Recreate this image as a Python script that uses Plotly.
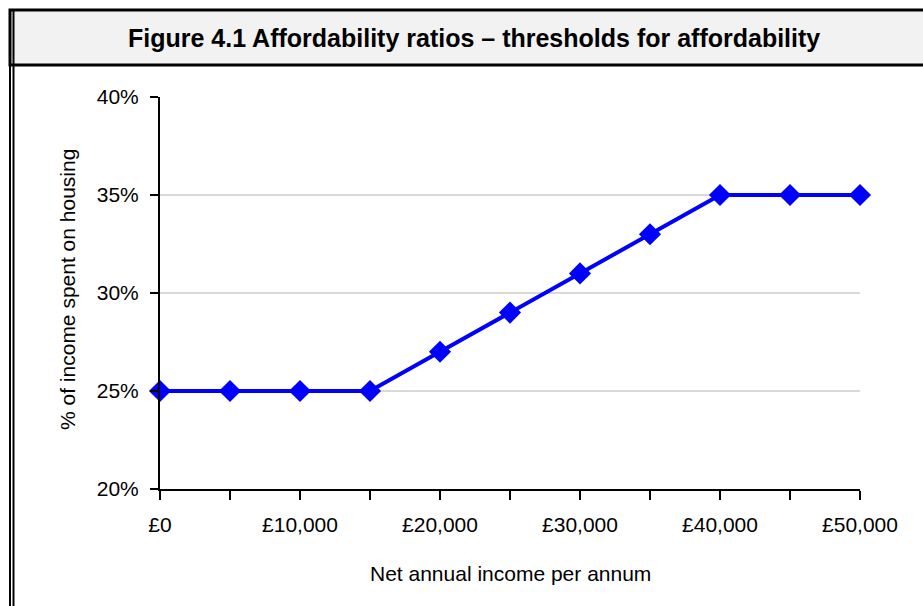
import plotly.graph_objects as go

income = [0, 5000, 10000, 15000, 20000, 25000, 30000, 35000, 40000, 45000, 50000]
pct_housing = [25, 25, 25, 25, 27, 29, 31, 33, 35, 35, 35]
x_tickvals = [0, 10000, 20000, 30000, 40000, 50000]
x_ticktext = ["£0", "£10,000", "£20,000", "£30,000", "£40,000", "£50,000"]
y_tickvals = [20, 25, 30, 35, 40]
y_ticktext = ["20%", "25%", "30%", "35%", "40%"]

W, H = 923, 606
L, R, T, B = 160, 860, 97, 489

def px(x):
    return (x - L) / (R - L)

def py(y):
    return (B - y) / (B - T)

fig = go.Figure()
fig.add_trace(go.Scatter(
    x=income, y=pct_housing, mode="lines+markers",
    line=dict(color="#0000FF", width=4),
    marker=dict(symbol="diamond", size=17, color="#0000FF"),
    cliponaxis=False, showlegend=False,
))

font = "Liberation Sans"
fs = 21
fig.update_layout(
    width=W, height=H,
    margin=dict(l=L, r=W - R, t=T, b=H - B),
    paper_bgcolor="white", plot_bgcolor="white",
    font=dict(family=font, size=fs, color="black"),
    xaxis=dict(
        range=[0, 50000], tickvals=x_tickvals, ticktext=x_ticktext,
        showgrid=False, showline=True, linecolor="black", linewidth=2,
        ticks="outside", ticklen=9, tickwidth=2, tickcolor="black",
        minor=dict(ticks="outside", ticklen=9, tickwidth=2, tickcolor="black", dtick=5000, showgrid=False),
        zeroline=False, ticklabelstandoff=7,
        tickfont=dict(size=fs, family=font),
    ),
    yaxis=dict(
        range=[20, 40], tickvals=y_tickvals, ticktext=y_ticktext,
        showgrid=True, gridcolor="#d9d9d9", gridwidth=2,
        showline=True, linecolor="black", linewidth=2,
        ticks="outside", ticklen=8, tickwidth=2, tickcolor="black",
        zeroline=False, ticklabelstandoff=7,
        tickfont=dict(size=fs, family=font),
    ),
    shapes=[
        dict(type="rect", xref="paper", yref="paper",
             x0=px(10), x1=px(930), y0=py(10), y1=py(65),
             fillcolor="#f2f2f2", line=dict(color="black", width=3), layer="below"),
        dict(type="line", xref="paper", yref="paper",
             x0=px(10), x1=px(10), y0=py(10), y1=py(610),
             line=dict(color="black", width=2)),
        dict(type="line", xref="paper", yref="paper",
             x0=px(13.5), x1=px(13.5), y0=py(10), y1=py(610),
             line=dict(color="black", width=2)),
    ],
    annotations=[
        dict(text="<b>Figure 4.1 Affordability ratios – thresholds for affordability</b>",
             xref="paper", yref="paper", x=px(474), y=py(38),
             xanchor="center", yanchor="middle", showarrow=False,
             font=dict(size=25, family=font)),
        dict(text="Net annual income per annum",
             xref="paper", yref="paper", x=px(510), y=py(573),
             xanchor="center", yanchor="middle", showarrow=False,
             font=dict(size=fs, family=font)),
        dict(text="% of income spent on housing",
             xref="paper", yref="paper", x=px(67), y=py(289),
             xanchor="center", yanchor="middle", showarrow=False, textangle=-90,
             font=dict(size=fs, family=font)),
    ],
)

fig.write_html("out.html")
